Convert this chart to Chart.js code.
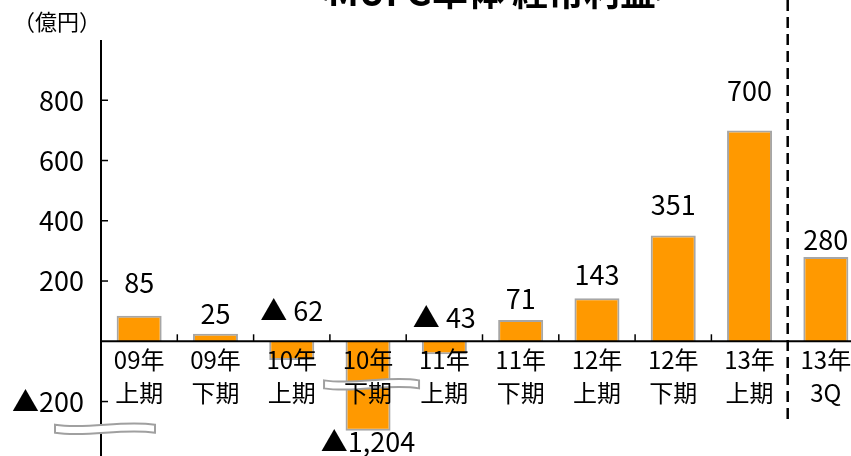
<!DOCTYPE html>
<html lang="ja">
<head>
<meta charset="UTF-8">
<title>MUFG単体 経常利益</title>
<script src="https://cdn.jsdelivr.net/npm/chart.js"></script>
<style>
  html, body { margin: 0; padding: 0; background: #fff; overflow: hidden; }
  #wrap { position: relative; width: 864px; height: 495px; }
</style>
</head>
<body>
<div id="wrap"><canvas id="profitChart"></canvas></div>
<script>
  const categories = [
    ['09年', '上期'], ['09年', '下期'], ['10年', '上期'], ['10年', '下期'], ['11年', '上期'],
    ['11年', '下期'], ['12年', '上期'], ['12年', '下期'], ['13年', '上期'], ['13年', '3Q']
  ];
  const profits = [85, 25, -62, -1204, -43, 71, 143, 351, 700, 280];
  const yTicks = [-200, 200, 400, 600, 800];
  const breakLevel = -297;   // bars deeper than this are cut (broken axis)

  // gap in px between bar end and its value label (hand placed in the original)
  const labelGap = [33, 20, 31, 11, 24, 21, 23, 31, 40, 17];

  const jp = '"Noto Sans CJK JP", "Noto Sans", sans-serif';

  function valueText(v) {
    if (v >= 0) return String(v);
    if (v < breakLevel) return '▲' + Math.abs(v).toLocaleString('en-US');
    return '▲ ' + Math.abs(v);
  }

  function breakMark(ctx, x0, x1, yc, h) {
    const w = x1 - x0, amp = 5;
    ctx.beginPath();
    ctx.moveTo(x0, yc - h / 2);
    ctx.bezierCurveTo(x0 + w / 3, yc - h / 2 + amp, x0 + 2 * w / 3, yc - h / 2 - amp, x1, yc - h / 2);
    ctx.lineTo(x1, yc + h / 2);
    ctx.bezierCurveTo(x0 + 2 * w / 3, yc + h / 2 - amp, x0 + w / 3, yc + h / 2 + amp, x0, yc + h / 2);
    ctx.closePath();
    ctx.fillStyle = '#fff';
    ctx.fill();
    ctx.strokeStyle = '#A0A0A0';
    ctx.lineWidth = 2;
    ctx.stroke();
  }

  const decor = {
    id: 'decor',
    afterDatasetsDraw(chart) {
      const { ctx, chartArea: a, scales: { x, y } } = chart;
      const bars = chart.getDatasetMeta(0).data;
      const y0 = y.getPixelForValue(0);
      const line = (x1, y1, x2, y2) => { ctx.beginPath(); ctx.moveTo(x1, y1); ctx.lineTo(x2, y2); ctx.stroke(); };
      ctx.save();

      // axes
      ctx.strokeStyle = '#000';
      ctx.lineWidth = 2;
      line(a.left, a.top, a.left, a.bottom);
      line(a.left, y0, a.right, y0);

      // tick marks
      ctx.lineWidth = 1.5;
      yTicks.forEach(v => {
        const py = y.getPixelForValue(v);
        line(a.left, py, a.left + 7, py);
      });
      for (let i = 1; i < categories.length - 1; i++) {
        const px = (x.getPixelForValue(i - 1) + x.getPixelForValue(i)) / 2;
        line(px, y0, px, y0 - 7);
      }

      // dashed separator before 13年3Q
      const n = categories.length;
      const sepX = (x.getPixelForValue(n - 2) + x.getPixelForValue(n - 1)) / 2;
      ctx.lineWidth = 2.5;
      ctx.setLineDash([11, 6]);
      line(sepX, 0, sepX, 419);
      ctx.setLineDash([]);

      // broken axis marks
      profits.forEach((v, i) => {
        if (v < breakLevel) {
          breakMark(ctx, bars[i].x - 44, bars[i].x + 51, y.getPixelForValue(-143), 8);
        }
      });
      breakMark(ctx, a.left - 46, a.left + 54, y.getPixelForValue(-290), 8);

      // value labels
      ctx.fillStyle = '#000';
      ctx.font = '27px ' + jp;
      ctx.textAlign = 'center';
      ctx.textBaseline = 'middle';
      profits.forEach((v, i) => {
        const b = bars[i];
        let ly;
        if (v >= 0) ly = b.y - labelGap[i];
        else if (v >= breakLevel) ly = y0 - labelGap[i];
        else ly = b.y + labelGap[i];
        ctx.fillText(valueText(v), b.x, ly);
      });

      // title (cut at the top edge) and unit
      ctx.font = 'bold 36px ' + jp;
      ctx.textBaseline = 'alphabetic';
      ctx.fillText('<MUFG単体 経常利益>', 492, 6);
      ctx.font = '22px ' + jp;
      ctx.textBaseline = 'middle';
      ctx.fillText('（億円）', 57, 22);

      ctx.restore();
    }
  };

  new Chart(document.getElementById('profitChart'), {
    type: 'bar',
    data: {
      labels: categories,
      datasets: [{
        data: profits.map(v => Math.max(v, breakLevel)),
        backgroundColor: '#FF9900',
        borderColor: '#A6A6A6',
        borderWidth: 2,
        barPercentage: 0.59,
        categoryPercentage: 1
      }]
    },
    options: {
      responsive: true,
      maintainAspectRatio: false,
      animation: false,
      layout: { padding: { top: 40, left: 0, right: 0, bottom: 0 } },
      plugins: {
        legend: { display: false },
        tooltip: { enabled: false }
      },
      scales: {
        x: {
          position: { y: 0 },
          offset: true,
          grid: { display: false, drawTicks: false },
          border: { display: false },
          ticks: {
            z: 1,
            autoSkip: false,
            maxRotation: 0,
            padding: 2,
            color: '#000',
            font: { family: jp, size: 24, lineHeight: 1.375 }
          },
          afterFit: s => { s.height = 0; }
        },
        y: {
          min: -400,
          max: 1000,
          grid: { display: false, drawTicks: false },
          border: { display: false },
          afterBuildTicks: s => { s.ticks = yTicks.map(v => ({ value: v })); },
          ticks: {
            padding: 17,
            color: '#000',
            font: { family: jp, size: 27 },
            callback: v => v < 0 ? '▲' + Math.abs(v) : v
          },
          afterFit: s => { s.width = 101; }
        }
      }
    },
    plugins: [decor]
  });
</script>
</body>
</html>
